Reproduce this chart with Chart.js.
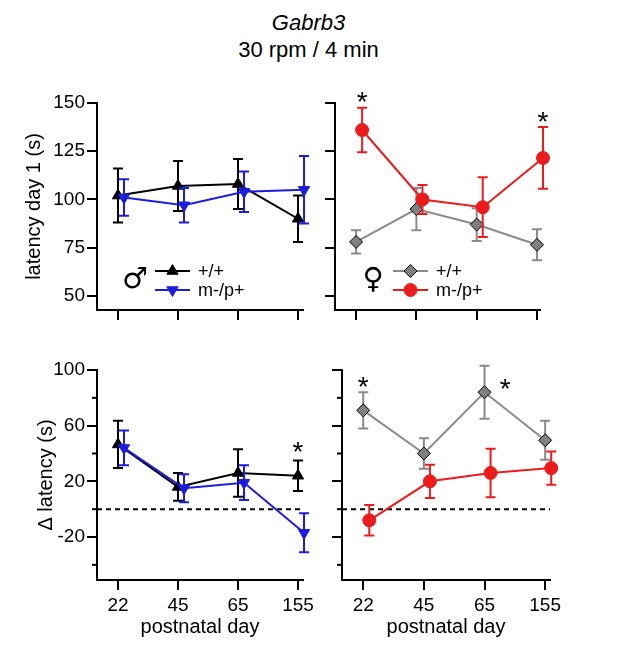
<!DOCTYPE html>
<html>
<head>
<meta charset="utf-8">
<title>Gabrb3 30 rpm / 4 min</title>
<script src="https://cdn.jsdelivr.net/npm/chart.js@4.4.1/dist/chart.umd.min.js"></script>
<style>
  body { margin: 0; background: #fff; }
  #wrap { position: relative; width: 617px; height: 648px; font-family: "Liberation Sans", Arial, sans-serif; }
  #wrap canvas { position: absolute; }
  .title { position: absolute; left: 0; width: 617px; text-align: center; font-size: 22px; line-height: 26px; color: #000; }
</style>
</head>
<body>
<div id="wrap">
  <div class="title" style="top:10px"><i>Gabrb3</i></div>
  <div class="title" style="top:37px">30 rpm / 4 min</div>
</div>
<script>
// Data
const days = ['22', '45', '65', '155'];

// latency day 1 (s), mean and error
const maleWtDay1 = [102, 107, 108, 90];
const maleWtDay1Err = [14, 13, 13, 12];
const maleMutDay1 = [101, 97, 104, 105];
const maleMutDay1Err = [9.5, 9, 10.5, 17.5];
const femaleWtDay1 = [78, 95, 87, 76.5];
const femaleWtDay1Err = [6, 11, 8.5, 8];
const femaleMutDay1 = [136, 100, 96, 121.5];
const femaleMutDay1Err = [11.5, 7.5, 15.5, 16];

// delta latency (s), mean and error
const maleWtDelta = [46.5, 16, 26, 24];
const maleWtDeltaErr = [17, 10, 17, 11];
const maleMutDelta = [44, 15, 19, -17];
const maleMutDeltaErr = [12.5, 10, 12.5, 14];
const femaleWtDelta = [71, 40, 84, 49.5];
const femaleWtDeltaErr = [13, 11, 19, 14];
const femaleMutDelta = [-8, 20, 26, 29.5];
const femaleMutDeltaErr = [11, 12, 17.5, 12];

// axes
const day1Ticks = [50, 75, 100, 125, 150];
const deltaTicks = [-20, 20, 60, 100];
const deltaMinorTicks = [-40, 0, 40, 80];

// significance stars: [day index, value]
const starsFemaleDay1 = [[0.1, 154], [3.1, 144]];
const starsMaleDelta = [[3, 46]];
const starsFemaleDelta = [[0, 93], [2.34, 91.5]];

const BLUE = '#1c1ce0';
const RED = '#ec1c1c';
const GRAY = '#8a8a8a';
const FONT = '"Liberation Sans", Arial, sans-serif';

Chart.defaults.font.family = FONT;
Chart.defaults.color = '#000';

function series(label, vals, errs, off, color, style, rot, fill, edge, order) {
    return {
        label: label,
        order: order,
        data: vals.map((v, i) => ({ x: i + off, y: v })),
        errors: errs,
        borderColor: color,
        borderWidth: 2,
        pointStyle: style,
        pointRotation: rot,
        pointRadius: 6.5,
        pointBackgroundColor: fill,
        pointBorderColor: edge,
        pointBorderWidth: 1,
        clip: false
    };
}

function zeroLine() {
    return {
        data: [{ x: -0.35, y: 0 }, { x: 3.08, y: 0 }],
        order: 3,
        borderColor: '#000',
        borderWidth: 2,
        borderDash: [5, 4],
        pointRadius: 0
    };
}

// error bars under each series
const errorBars = {
    id: 'errorBars',
    beforeDatasetDraw(chart, args) {
        const ds = chart.data.datasets[args.index];
        if (!ds.errors) return;
        const { ctx } = chart;
        const x = chart.scales.x, y = chart.scales.y;
        ctx.save();
        ctx.strokeStyle = ds.borderColor;
        ctx.lineWidth = 2;
        ds.data.forEach((p, i) => {
            const px = x.getPixelForValue(p.x);
            const top = y.getPixelForValue(p.y + ds.errors[i]);
            const bot = y.getPixelForValue(p.y - ds.errors[i]);
            ctx.beginPath();
            ctx.moveTo(px, top); ctx.lineTo(px, bot);
            ctx.moveTo(px - 5, top); ctx.lineTo(px + 5, top);
            ctx.moveTo(px - 5, bot); ctx.lineTo(px + 5, bot);
            ctx.stroke();
        });
        ctx.restore();
    }
};

// minor ticks, stars and the legend
const marks = {
    id: 'marks',
    afterDraw(chart, args, opts) {
        const { ctx, chartArea: a } = chart;
        const x = chart.scales.x, y = chart.scales.y;
        ctx.save();
        ctx.strokeStyle = '#000';
        ctx.lineWidth = 2;
        (opts.minor || []).forEach(v => {
            const py = y.getPixelForValue(v);
            ctx.beginPath();
            ctx.moveTo(a.left - 5, py); ctx.lineTo(a.left, py);
            ctx.stroke();
        });

        ctx.fillStyle = '#000';
        ctx.font = '28px ' + FONT;
        ctx.textAlign = 'center';
        ctx.textBaseline = 'alphabetic';
        (opts.stars || []).forEach(s => {
            ctx.fillText('*', x.getPixelForValue(s[0]), y.getPixelForValue(s[1]) + 16);
        });

        const lg = opts.legend;
        if (lg) {
            ctx.font = '29px "DejaVu Sans"';
            ctx.textBaseline = 'middle';
            ctx.fillText(lg.symbol, a.left + 38, a.top + 177);
            ctx.font = '18px ' + FONT;
            ctx.textAlign = 'left';
            let row = 0;
            chart.data.datasets.forEach(ds => {
                if (!ds.errors) return;
                const yy = a.top + 168 + row * 19;
                ctx.strokeStyle = ds.borderColor;
                ctx.lineWidth = 2;
                ctx.beginPath();
                ctx.moveTo(a.left + 58, yy); ctx.lineTo(a.left + 93, yy);
                ctx.stroke();
                ctx.fillStyle = ds.pointBackgroundColor;
                ctx.strokeStyle = ds.pointBorderColor;
                ctx.lineWidth = ds.pointBorderWidth;
                Chart.helpers.drawPoint(ctx, {
                    pointStyle: ds.pointStyle,
                    rotation: ds.pointRotation,
                    radius: ds.pointRadius,
                    borderWidth: ds.pointBorderWidth
                }, a.left + 75.5, yy);
                ctx.fillStyle = '#000';
                ctx.fillText(ds.label, a.left + 101, yy + 1);
                row++;
            });
        }
        ctx.restore();
    }
};

const wrap = document.getElementById('wrap');

function panel(o) {
    const cv = document.createElement('canvas');
    cv.width = o.cw; cv.height = o.ch;
    cv.style.left = o.cl + 'px';
    cv.style.top = o.ct + 'px';
    wrap.appendChild(cv);
    const yw = o.area[0] - o.cl;
    const pt = o.area[1] - o.ct;
    const pr = o.cl + o.cw - o.area[2];
    const xh = o.ct + o.ch - o.area[3];
    const noPad = s => { s.paddingLeft = 0; s.paddingRight = 0; s.paddingTop = 0; s.paddingBottom = 0; };

    new Chart(cv.getContext('2d'), {
        type: 'line',
        data: { datasets: o.datasets },
        options: {
            responsive: false,
            animation: false,
            events: [],
            layout: { padding: { left: 0, top: pt, right: pr, bottom: 0 } },
            plugins: {
                legend: { display: false },
                tooltip: { enabled: false },
                marks: { minor: o.minor, stars: o.stars, legend: o.legend }
            },
            scales: {
                x: {
                    type: 'linear',
                    min: -0.35,
                    max: o.xMax,
                    afterBuildTicks: s => { s.ticks = days.map((d, i) => ({ value: i })); },
                    afterFit: s => { s.height = xh; noPad(s); },
                    grid: { display: true, drawOnChartArea: false, drawTicks: true, tickLength: 10, color: '#000', lineWidth: 2 },
                    border: { display: true, color: '#000', width: 2 },
                    ticks: {
                        color: '#000', font: { size: 19 }, padding: 4, maxRotation: 0, autoSkip: false,
                        callback: v => o.xLabels ? days[v] : ''
                    },
                    title: { display: !!o.xTitle, text: o.xTitle || '', color: '#000', font: { size: 20 }, padding: { top: 0, bottom: 9 } }
                },
                y: {
                    type: 'linear',
                    min: o.yMin,
                    max: o.yMax,
                    afterBuildTicks: s => { s.ticks = o.yTicks.map(v => ({ value: v })); },
                    afterFit: s => { s.width = yw; noPad(s); },
                    grid: { display: true, drawOnChartArea: false, drawTicks: true, tickLength: 10, color: '#000', lineWidth: 2 },
                    border: { display: true, color: '#000', width: 2 },
                    ticks: {
                        color: '#000', font: { size: 19 }, padding: 2,
                        callback: v => o.yLabels ? String(v) : ''
                    },
                    title: { display: !!o.yTitle, text: o.yTitle || '', color: '#000', font: { size: 20 }, padding: { top: o.yTitlePad || 0, bottom: 0 } }
                }
            }
        },
        plugins: [errorBars, marks]
    });
}

// top-left: males, latency day 1
panel({
    cl: 0, ct: 60, cw: 318, ch: 270, area: [97, 103, 303, 310],
    xMax: 3.083, yMin: 42.7, yMax: 150, yTicks: day1Ticks,
    yLabels: true, yTitle: 'latency day 1 (s)', yTitlePad: 22,
    legend: { symbol: '\u2642' },
    datasets: [
        series('+/+', maleWtDay1, maleWtDay1Err, 0, '#000', 'triangle', 0, '#000', '#000', 2),
        series('m-/p+', maleMutDay1, maleMutDay1Err, 0.1, BLUE, 'triangle', 180, BLUE, BLUE, 1)
    ]
});

// top-right: females, latency day 1
panel({
    cl: 318, ct: 60, cw: 299, ch: 270, area: [335, 103, 540, 310],
    xMax: 3.05, yMin: 42.7, yMax: 150, yTicks: day1Ticks,
    stars: starsFemaleDay1,
    legend: { symbol: '\u2640' },
    datasets: [
        series('+/+', femaleWtDay1, femaleWtDay1Err, 0, GRAY, 'rectRot', 0, '#808080', '#000', 2),
        series('m-/p+', femaleMutDay1, femaleMutDay1Err, 0.1, RED, 'circle', 0, RED, RED, 1)
    ]
});

// bottom-left: males, delta latency
panel({
    cl: 0, ct: 330, cw: 318, ch: 318, area: [97, 370, 303, 580],
    xMax: 3.083, yMin: -50.9, yMax: 100, yTicks: deltaTicks, minor: deltaMinorTicks,
    xLabels: true, xTitle: 'postnatal day',
    yLabels: true, yTitle: '\u0394 latency (s)', yTitlePad: 34,
    stars: starsMaleDelta,
    datasets: [
        series('+/+', maleWtDelta, maleWtDeltaErr, 0, '#000', 'triangle', 0, '#000', '#000', 2),
        series('m-/p+', maleMutDelta, maleMutDeltaErr, 0.1, BLUE, 'triangle', 180, BLUE, BLUE, 1),
        zeroLine()
    ]
});

// bottom-right: females, delta latency
panel({
    cl: 318, ct: 330, cw: 299, ch: 318, area: [342, 370, 550, 580],
    xMax: 3.08, yMin: -50.9, yMax: 100, yTicks: deltaTicks, minor: deltaMinorTicks,
    xLabels: true, xTitle: 'postnatal day',
    stars: starsFemaleDelta,
    datasets: [
        series('+/+', femaleWtDelta, femaleWtDeltaErr, 0, GRAY, 'rectRot', 0, '#808080', '#000', 2),
        series('m-/p+', femaleMutDelta, femaleMutDeltaErr, 0.1, RED, 'circle', 0, RED, RED, 1),
        zeroLine()
    ]
});
</script>
</body>
</html>
